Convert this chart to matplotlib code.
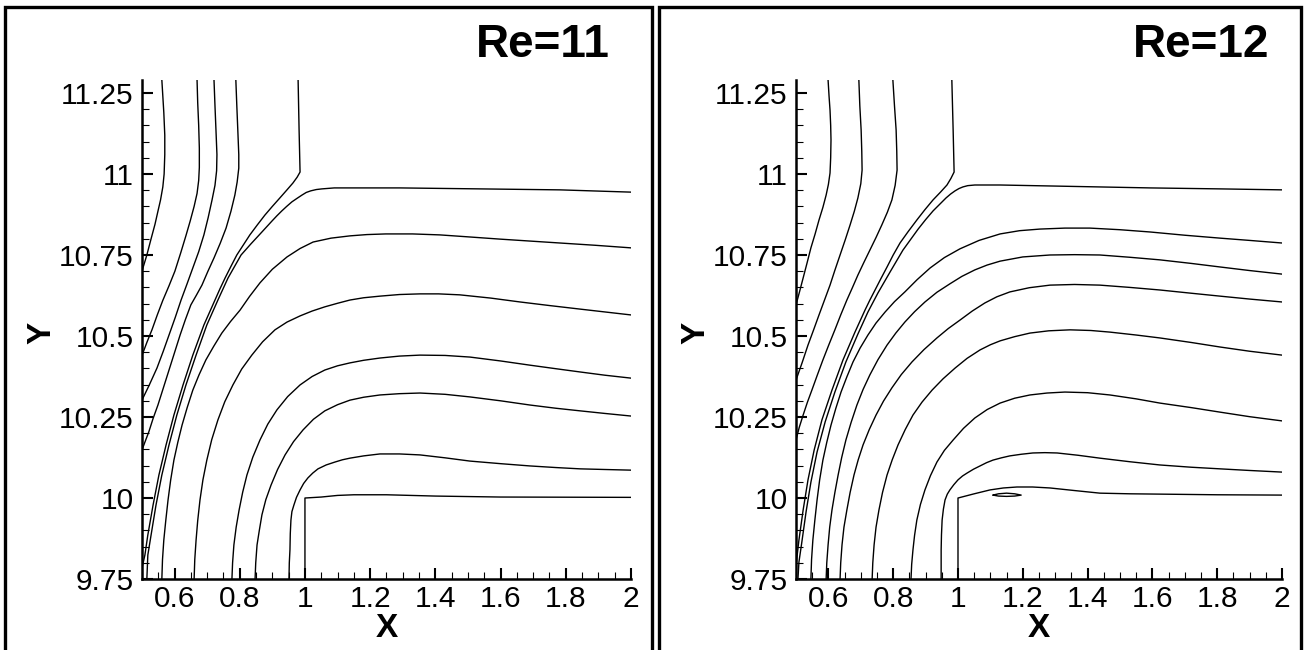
import matplotlib.pyplot as plt
from matplotlib.patches import Rectangle
from matplotlib.ticker import MultipleLocator, FormatStrFormatter

plt.rcParams['font.family'] = ['Liberation Sans', 'DejaVu Sans']

# ---- Re = 11 : streamlines (X, Y) ----
re11_top1_x = [0.561, 0.564, 0.567, 0.570, 0.570, 0.568, 0.564, 0.557, 0.549, 0.540, 0.528, 0.515, 0.500]
re11_top1_y = [11.29, 11.24, 11.19, 11.12, 11.06, 11.00, 10.96, 10.92, 10.885, 10.845, 10.80, 10.75, 10.70]
re11_top2_x = [0.669, 0.671, 0.674, 0.676, 0.676, 0.674, 0.669, 0.660, 0.648, 0.635, 0.619, 0.601, 0.583,
               0.564, 0.547, 0.531, 0.515, 0.500]
re11_top2_y = [11.29, 11.22, 11.15, 11.08, 11.02, 10.98, 10.94, 10.90, 10.855, 10.81, 10.757, 10.70, 10.655,
               10.61, 10.565, 10.52, 10.48, 10.44]
re11_top3_x = [0.721, 0.724, 0.727, 0.730, 0.729, 0.724, 0.715, 0.703, 0.690, 0.674, 0.656, 0.638, 0.620,
               0.602, 0.583, 0.565, 0.546, 0.523, 0.500]
re11_top3_y = [11.29, 11.21, 11.136, 11.06, 11.01, 10.965, 10.92, 10.865, 10.812, 10.76, 10.710, 10.66,
               10.611, 10.557, 10.503, 10.452, 10.401, 10.35, 10.302]
re11_top4_x = [0.788, 0.791, 0.794, 0.797, 0.797, 0.792, 0.785, 0.773, 0.758, 0.740, 0.721, 0.702, 0.684,
               0.667, 0.650, 0.633, 0.617, 0.600, 0.583, 0.566, 0.549, 0.534, 0.521, 0.510, 0.500]
re11_top4_y = [11.29, 11.21, 11.136, 11.06, 11.018, 10.975, 10.935, 10.885, 10.833, 10.786, 10.741, 10.699,
               10.657, 10.626, 10.596, 10.55, 10.503, 10.449, 10.395, 10.341, 10.287, 10.245, 10.204,
               10.175, 10.148]
re11_sep1_x = [0.979, 0.982, 0.985, 0.976, 0.963, 0.944, 0.923, 0.900, 0.877, 0.854, 0.831, 0.811, 0.791,
               0.773, 0.755, 0.739, 0.724, 0.690, 0.656, 0.626, 0.598, 0.574, 0.552, 0.534, 0.518,
               0.509, 0.500]
re11_sep1_y = [11.29, 11.136, 11.006, 10.990, 10.972, 10.950, 10.926, 10.900, 10.873, 10.843, 10.812,
               10.781, 10.750, 10.715, 10.679, 10.645, 10.611, 10.534, 10.441, 10.349, 10.256, 10.164,
               10.071, 9.978, 9.886, 9.824, 9.784]
re11_sep2_x = [2.0, 1.782, 1.537, 1.291, 1.138, 1.09, 1.052, 1.035, 1.018, 1.004, 0.991, 0.976, 0.960,
               0.944, 0.929, 0.914, 0.899, 0.868, 0.834, 0.804, 0.764, 0.733, 0.699, 0.666, 0.635, 0.607,
               0.583, 0.561, 0.543, 0.528, 0.518, 0.515]
re11_sep2_y = [10.944, 10.951, 10.954, 10.957, 10.957, 10.957, 10.954, 10.952, 10.948, 10.943, 10.935,
               10.925, 10.914, 10.900, 10.886, 10.871, 10.855, 10.821, 10.784, 10.750, 10.679, 10.611,
               10.534, 10.441, 10.349, 10.256, 10.164, 10.071, 9.978, 9.886, 9.824, 9.75]
re11_bot1_x = [0.561, 0.563, 0.567, 0.573, 0.580, 0.588, 0.598, 0.610, 0.623, 0.639, 0.656, 0.675, 0.696,
               0.720, 0.745, 0.772, 0.801, 0.830, 0.862, 0.900, 0.945, 0.985, 1.025, 1.08, 1.138, 1.19,
               1.248, 1.33, 1.414, 1.50, 1.598, 1.69, 1.782, 1.89, 2.0]
re11_bot1_y = [9.75, 9.81, 9.870, 9.93, 9.994, 10.055, 10.117, 10.172, 10.225, 10.28, 10.333, 10.38,
               10.426, 10.468, 10.509, 10.545, 10.580, 10.622, 10.664, 10.706, 10.744, 10.77, 10.790,
               10.802, 10.809, 10.813, 10.815, 10.815, 10.812, 10.806, 10.799, 10.793, 10.787, 10.78, 10.772]
re11_bot2_x = [0.660, 0.662, 0.666, 0.671, 0.678, 0.687, 0.699, 0.714, 0.733, 0.754, 0.779, 0.806, 0.837,
               0.870, 0.908, 0.945, 0.985, 1.022, 1.061, 1.10, 1.138, 1.18, 1.230, 1.29, 1.353, 1.41,
               1.475, 1.57, 1.660, 1.75, 1.844, 2.0]
re11_bot2_y = [9.75, 9.81, 9.870, 9.93, 9.994, 10.056, 10.117, 10.18, 10.241, 10.297, 10.349, 10.398,
               10.441, 10.482, 10.519, 10.543, 10.562, 10.577, 10.590, 10.601, 10.611, 10.618, 10.623,
               10.628, 10.630, 10.630, 10.627, 10.617, 10.605, 10.594, 10.583, 10.565]
re11_bot3_x = [0.776, 0.778, 0.782, 0.789, 0.798, 0.809, 0.822, 0.840, 0.862, 0.886, 0.914, 0.947, 0.985,
               1.022, 1.061, 1.10, 1.138, 1.18, 1.230, 1.29, 1.353, 1.43, 1.506, 1.60, 1.690, 1.77,
               1.844, 1.92, 2.0]
re11_bot3_y = [9.75, 9.80, 9.855, 9.91, 9.963, 10.018, 10.071, 10.126, 10.179, 10.228, 10.272, 10.313,
               10.349, 10.375, 10.395, 10.408, 10.417, 10.425, 10.432, 10.438, 10.441, 10.440, 10.435,
               10.423, 10.410, 10.399, 10.389, 10.379, 10.370]
re11_bot4_x = [0.847, 0.849, 0.853, 0.860, 0.868, 0.880, 0.896, 0.916, 0.939, 0.965, 0.994, 1.026, 1.061,
               1.10, 1.138, 1.18, 1.230, 1.29, 1.353, 1.43, 1.506, 1.60, 1.690, 1.77, 1.844, 1.92, 2.0]
re11_bot4_y = [9.75, 9.80, 9.855, 9.90, 9.948, 9.995, 10.040, 10.088, 10.133, 10.174, 10.210, 10.243,
               10.269, 10.288, 10.302, 10.311, 10.318, 10.322, 10.324, 10.320, 10.312, 10.300, 10.287,
               10.277, 10.269, 10.261, 10.253]
re11_bot5_x = [0.951, 0.952, 0.954, 0.955, 0.957, 0.960, 0.966, 0.974, 0.985, 0.996, 1.009, 1.024, 1.040,
               1.065, 1.092, 1.115, 1.138, 1.18, 1.230, 1.29, 1.353, 1.43, 1.506, 1.60, 1.690, 1.77,
               1.844, 1.92, 2.0]
re11_bot5_y = [9.75, 9.80, 9.840, 9.89, 9.932, 9.958, 9.978, 10.002, 10.025, 10.045, 10.062, 10.077,
               10.090, 10.102, 10.111, 10.118, 10.123, 10.130, 10.136, 10.136, 10.133, 10.124, 10.114,
               10.106, 10.099, 10.094, 10.090, 10.088, 10.086]
re11_wall_x = [1.0, 1.0, 1.05, 1.1, 1.15, 1.25, 1.4, 1.6, 2.0]
re11_wall_y = [9.75, 10.0, 10.003, 10.008, 10.010, 10.010, 10.006, 10.003, 10.002]

# ---- Re = 12 ----
re12_top1_x = [0.599, 0.602, 0.605, 0.607, 0.608, 0.607, 0.605, 0.600, 0.593, 0.583, 0.571, 0.559, 0.546,
               0.534, 0.522, 0.511, 0.500]
re12_top1_y = [11.29, 11.24, 11.197, 11.15, 11.105, 11.05, 11.003, 10.968, 10.935, 10.897, 10.858, 10.815,
               10.772, 10.725, 10.679, 10.637, 10.596]
re12_top2_x = [0.694, 0.697, 0.701, 0.703, 0.704, 0.700, 0.691, 0.680, 0.667, 0.652, 0.636, 0.620, 0.605,
               0.588, 0.571, 0.554, 0.537, 0.519, 0.500]
re12_top2_y = [11.29, 11.21, 11.136, 11.07, 11.012, 10.97, 10.926, 10.885, 10.843, 10.797, 10.750, 10.703,
               10.657, 10.611, 10.565, 10.518, 10.472, 10.418, 10.364]
re12_top3_x = [0.799, 0.804, 0.809, 0.811, 0.812, 0.806, 0.796, 0.782, 0.765, 0.747, 0.728, 0.709, 0.691,
               0.674, 0.657, 0.638, 0.620, 0.601, 0.583, 0.566, 0.549, 0.535, 0.522, 0.510, 0.500]
re12_top3_y = [11.29, 11.21, 11.136, 11.07, 11.012, 10.965, 10.920, 10.882, 10.843, 10.804, 10.765,
               10.726, 10.688, 10.649, 10.611, 10.565, 10.519, 10.472, 10.426, 10.38, 10.333, 10.295,
               10.256, 10.218, 10.179]
re12_sep1_x = [0.981, 0.985, 0.988, 0.978, 0.966, 0.946, 0.923, 0.898, 0.873, 0.846, 0.821, 0.800, 0.781,
               0.762, 0.744, 0.728, 0.713, 0.682, 0.645, 0.611, 0.580, 0.556, 0.537, 0.522, 0.509, 0.500]
re12_sep1_y = [11.29, 11.136, 11.006, 10.986, 10.966, 10.944, 10.920, 10.890, 10.858, 10.822, 10.787,
               10.750, 10.713, 10.677, 10.642, 10.611, 10.580, 10.512, 10.426, 10.333, 10.241, 10.148,
               10.056, 9.963, 9.870, 9.793]
re12_sep2_x = [2.0, 1.809, 1.593, 1.284, 1.130, 1.052, 1.03, 1.015, 1.003, 0.991, 0.977, 0.963, 0.944,
               0.923, 0.900, 0.877, 0.830, 0.790, 0.753, 0.722, 0.691, 0.654, 0.620, 0.590, 0.565, 0.546,
               0.531, 0.518, 0.509, 0.506]
re12_sep2_y = [10.951, 10.954, 10.957, 10.963, 10.966, 10.966, 10.964, 10.960, 10.955, 10.948, 10.938,
               10.926, 10.907, 10.886, 10.859, 10.830, 10.765, 10.697, 10.633, 10.574, 10.506, 10.420,
               10.327, 10.235, 10.142, 10.049, 9.957, 9.864, 9.802, 9.75]
re12_bot1_x = [0.546, 0.548, 0.552, 0.558, 0.565, 0.573, 0.583, 0.595, 0.608, 0.623, 0.639, 0.657, 0.676,
               0.698, 0.722, 0.747, 0.775, 0.804, 0.836, 0.874, 0.914, 0.958, 1.006, 1.065, 1.130, 1.19,
               1.253, 1.33, 1.407, 1.50, 1.593, 1.70, 1.809, 1.90, 2.0]
re12_bot1_y = [9.75, 9.81, 9.870, 9.93, 9.994, 10.056, 10.117, 10.172, 10.225, 10.277, 10.327, 10.374,
               10.420, 10.463, 10.503, 10.540, 10.574, 10.606, 10.636, 10.674, 10.710, 10.742, 10.769,
               10.795, 10.815, 10.825, 10.830, 10.833, 10.833, 10.828, 10.821, 10.811, 10.802, 10.795, 10.787]
re12_bot2_x = [0.593, 0.595, 0.599, 0.604, 0.611, 0.620, 0.630, 0.641, 0.654, 0.670, 0.688, 0.707, 0.728,
               0.753, 0.781, 0.808, 0.836, 0.866, 0.898, 0.935, 0.975, 1.012, 1.052, 1.09, 1.130, 1.20,
               1.284, 1.36, 1.438, 1.53, 1.623, 1.72, 1.809, 1.90, 2.0]
re12_bot2_y = [9.75, 9.80, 9.855, 9.91, 9.963, 10.017, 10.071, 10.125, 10.179, 10.233, 10.287, 10.335,
               10.380, 10.427, 10.472, 10.509, 10.543, 10.575, 10.605, 10.635, 10.661, 10.684, 10.704,
               10.719, 10.731, 10.744, 10.750, 10.751, 10.750, 10.743, 10.735, 10.724, 10.713, 10.702, 10.691]
re12_bot3_x = [0.636, 0.638, 0.642, 0.648, 0.657, 0.667, 0.679, 0.692, 0.707, 0.726, 0.747, 0.770, 0.796,
               0.825, 0.858, 0.895, 0.935, 0.970, 1.006, 1.044, 1.083, 1.12, 1.160, 1.22, 1.284, 1.36,
               1.438, 1.53, 1.623, 1.72, 1.809, 1.90, 2.0]
re12_bot3_y = [9.75, 9.80, 9.855, 9.91, 9.963, 10.017, 10.071, 10.118, 10.164, 10.211, 10.256, 10.299,
               10.340, 10.381, 10.420, 10.458, 10.494, 10.523, 10.549, 10.577, 10.602, 10.621, 10.636,
               10.649, 10.657, 10.659, 10.657, 10.650, 10.642, 10.632, 10.623, 10.614, 10.605]
re12_bot4_x = [0.735, 0.737, 0.741, 0.747, 0.756, 0.767, 0.781, 0.797, 0.815, 0.837, 0.861, 0.889, 0.920,
               0.954, 0.991, 1.028, 1.068, 1.10, 1.130, 1.175, 1.222, 1.28, 1.346, 1.41, 1.469, 1.55,
               1.623, 1.72, 1.809, 1.90, 2.0]
re12_bot4_y = [9.75, 9.80, 9.855, 9.91, 9.963, 10.017, 10.071, 10.118, 10.164, 10.211, 10.256, 10.296,
               10.333, 10.368, 10.401, 10.431, 10.457, 10.473, 10.485, 10.498, 10.509, 10.516, 10.519,
               10.517, 10.512, 10.503, 10.494, 10.480, 10.466, 10.453, 10.441]
re12_bot5_x = [0.855, 0.857, 0.861, 0.866, 0.873, 0.884, 0.898, 0.915, 0.935, 0.958, 0.985, 1.017, 1.052,
               1.09, 1.130, 1.175, 1.222, 1.275, 1.330, 1.40, 1.469, 1.55, 1.623, 1.72, 1.809, 1.90, 2.0]
re12_bot5_y = [9.75, 9.795, 9.840, 9.885, 9.932, 9.980, 10.025, 10.069, 10.111, 10.147, 10.179, 10.215,
               10.247, 10.273, 10.293, 10.308, 10.318, 10.324, 10.327, 10.325, 10.318, 10.306, 10.293,
               10.279, 10.265, 10.251, 10.238]
re12_bot6_x = [0.948, 0.948, 0.948, 0.949, 0.951, 0.955, 0.960, 0.967, 0.975, 0.987, 1.0, 1.014, 1.028,
               1.048, 1.068, 1.088, 1.108, 1.134, 1.160, 1.195, 1.231, 1.268, 1.306, 1.37, 1.438, 1.53,
               1.623, 1.72, 1.809, 1.90, 2.0]
re12_bot6_y = [9.75, 9.795, 9.840, 9.886, 9.932, 9.966, 9.994, 10.012, 10.025, 10.041, 10.056, 10.068,
               10.077, 10.089, 10.099, 10.109, 10.117, 10.124, 10.130, 10.135, 10.139, 10.140, 10.139,
               10.132, 10.123, 10.112, 10.102, 10.095, 10.090, 10.085, 10.080]
re12_wall_x = [1.0, 1.0, 1.05, 1.099, 1.14, 1.182, 1.23, 1.284, 1.36, 1.438, 1.53, 1.623, 1.8, 2.0]
re12_wall_y = [9.75, 10.0, 10.013, 10.025, 10.031, 10.034, 10.034, 10.031, 10.023, 10.015, 10.013, 10.012,
               10.010, 10.009]
re12_bubble_x = [1.108, 1.125, 1.15, 1.175, 1.195, 1.175, 1.15, 1.125, 1.108]
re12_bubble_y = [10.009, 10.013, 10.015, 10.013, 10.009, 10.006, 10.005, 10.006, 10.009]

re11_lines = [(re11_top1_x, re11_top1_y), (re11_top2_x, re11_top2_y), (re11_top3_x, re11_top3_y),
              (re11_top4_x, re11_top4_y), (re11_sep1_x, re11_sep1_y), (re11_sep2_x, re11_sep2_y),
              (re11_bot1_x, re11_bot1_y), (re11_bot2_x, re11_bot2_y), (re11_bot3_x, re11_bot3_y),
              (re11_bot4_x, re11_bot4_y), (re11_bot5_x, re11_bot5_y), (re11_wall_x, re11_wall_y)]
re12_lines = [(re12_top1_x, re12_top1_y), (re12_top2_x, re12_top2_y), (re12_top3_x, re12_top3_y),
              (re12_sep1_x, re12_sep1_y), (re12_sep2_x, re12_sep2_y), (re12_bot1_x, re12_bot1_y),
              (re12_bot2_x, re12_bot2_y), (re12_bot3_x, re12_bot3_y), (re12_bot4_x, re12_bot4_y),
              (re12_bot5_x, re12_bot5_y), (re12_bot6_x, re12_bot6_y), (re12_wall_x, re12_wall_y),
              (re12_bubble_x, re12_bubble_y)]


def tecplot_axes(ax, lines):
    for x, y in lines:
        ax.plot(x, y, color='k', lw=1.0, solid_joinstyle='round', solid_capstyle='round')
    ax.set_xlim(0.5, 2.0)
    ax.set_ylim(9.75, 11.29)
    for side in ['top', 'right']:
        ax.spines[side].set_visible(False)
    for side in ['left', 'bottom']:
        ax.spines[side].set_linewidth(1.8)
    ax.xaxis.set_major_locator(MultipleLocator(0.2))
    ax.xaxis.set_minor_locator(MultipleLocator(0.05))
    ax.yaxis.set_major_locator(MultipleLocator(0.25))
    ax.yaxis.set_minor_locator(MultipleLocator(0.05))
    ax.xaxis.set_major_formatter(FormatStrFormatter('%g'))
    ax.yaxis.set_major_formatter(FormatStrFormatter('%g'))
    ax.tick_params(which='major', direction='in', length=8, width=1.5, labelsize=21.5, pad=4)
    ax.tick_params(which='minor', direction='in', length=5, width=0.8)
    ax.tick_params(axis='y', which='major', pad=6)
    ax.set_xlabel('X', fontsize=24, fontweight='bold', va='center')
    ax.set_ylabel('Y', fontsize=24, fontweight='bold', va='center')
    ax.xaxis.set_label_coords(0.5, -0.1)
    ax.yaxis.set_label_coords(-0.205, 0.493)
    ax.patch.set_visible(False)


fig = plt.figure(figsize=(13.06, 6.5), dpi=100)

# panel frames
fig.add_artist(Rectangle((5 / 1306, -0.05), 647 / 1306, 1.05 - 6.5 / 650, transform=fig.transFigure,
                         fill=False, lw=2.4, ec='k'))
fig.add_artist(Rectangle((659 / 1306, -0.05), 642 / 1306, 1.05 - 6.5 / 650, transform=fig.transFigure,
                         fill=False, lw=2.4, ec='k'))

ax1 = fig.add_axes([0.1087, 0.1092, 0.3744, 0.7677])
tecplot_axes(ax1, re11_lines)
ax2 = fig.add_axes([0.6095, 0.1092, 0.3721, 0.7677])
tecplot_axes(ax2, re12_lines)

fig.text(610 / 1306, 0.912, 'Re=11', ha='right', va='baseline', fontsize=33, fontweight='bold')
fig.text(1269 / 1306, 0.912, 'Re=12', ha='right', va='baseline', fontsize=33, fontweight='bold')

fig.savefig('out.png', dpi=100)
